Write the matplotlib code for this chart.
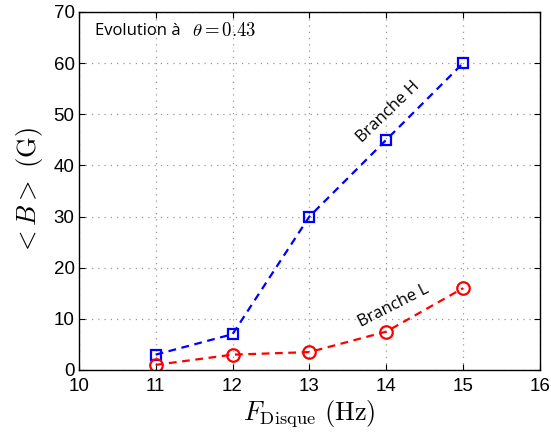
import matplotlib
matplotlib.use("Agg")
import matplotlib.pyplot as plt

freq = [11, 12, 13, 14, 15]
branche_h = [3, 7, 30, 45, 60]
branche_l = [1, 3, 3.5, 7.5, 16]
xticks = [10, 11, 12, 13, 14, 15, 16]
yticks = [0, 10, 20, 30, 40, 50, 60, 70]

plt.rcParams['mathtext.fontset'] = 'cm'
plt.rcParams['font.family'] = ['Liberation Sans', 'DejaVu Sans']

fig = plt.figure(figsize=(5.51, 4.41), dpi=100)
ax = fig.add_axes([0.143, 0.161, 0.837, 0.812])

ax.plot(freq, branche_h, color='blue', lw=1.6, marker='s', ms=7,
        mfc='none', mec='blue', mew=1.6, ls=(0, (3.5, 2.5)))
ax.plot(freq, branche_l, color='red', lw=1.6, marker='o', ms=9,
        mfc='none', mec='red', mew=1.6, ls=(0, (3.5, 2.5)))

ax.set_xlim(10, 16)
ax.set_ylim(0, 70)
ax.set_xticks(xticks)
ax.set_yticks(yticks)
ax.tick_params(labelsize=13.5, direction='in', length=4, top=True, right=True)
ax.tick_params(axis='x', pad=6)
ax.tick_params(axis='y', pad=3)
ax.grid(True, ls=(0, (1, 4)), color='#999999', lw=0.9)
for s in ax.spines.values():
    s.set_linewidth(1.0)

ax.set_xlabel(r'$F_{\mathrm{Disque}}\ \mathrm{(Hz)}$', fontsize=19, labelpad=2)
ax.set_ylabel(r'$<B>\ \mathrm{(G)}$', fontsize=19, labelpad=6)

ax.text(10.21, 66.2, 'Evolution à', fontsize=12, family=['Open Sans', 'DejaVu Sans'], va='center')
ax.text(11.47, 66.2, r'$\theta = 0.43$', fontsize=13.5, va='center')
ax.text(14.03, 50.5, 'Branche H', fontsize=12, family=['Open Sans', 'DejaVu Sans'],
        rotation=44, rotation_mode='anchor', ha='center', va='center')
ax.text(14.1, 12.6, 'Branche L', fontsize=12, family=['Open Sans', 'DejaVu Sans'],
        rotation=27, rotation_mode='anchor', ha='center', va='center')

fig.savefig('out.png', dpi=100)
